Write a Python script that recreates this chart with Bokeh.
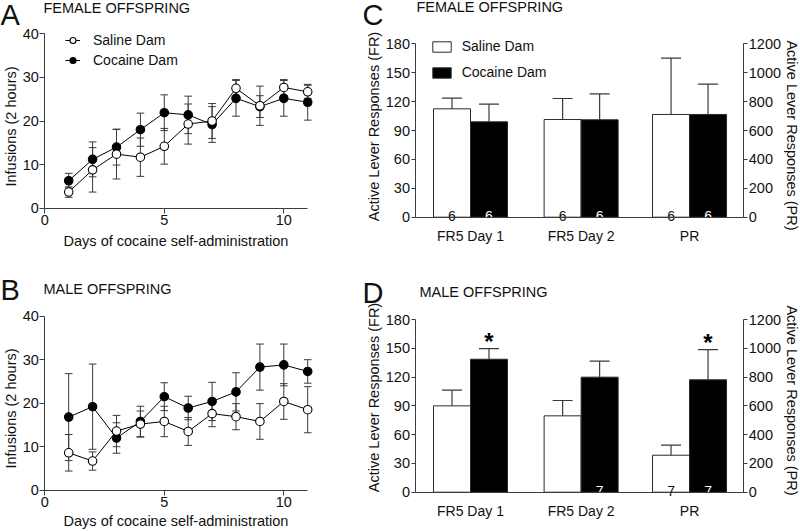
import math
from bokeh.plotting import figure
from bokeh.models import (Range1d, LinearAxis, FixedTicker, Label, Legend, LegendItem,
                          ColumnDataSource)
from bokeh.layouts import column, row
from bokeh.embed import file_html
from bokeh.resources import INLINE
from bokeh.core.properties import value

# ---------------- data ----------------
days = [1, 2, 3, 4, 5, 6, 7, 8, 9, 10, 11]
day_ticks = [0, 5, 10]
infusion_ticks = [0, 10, 20, 30, 40]

female_saline = [3.7, 8.8, 12.4, 11.7, 14.2, 19.3, 20.0, 27.5, 23.5, 27.7, 26.7]
female_saline_sem = [1.2, 5.1, 5.7, 4.4, 4.1, 4.6, 4.0, 2.0, 4.5, 1.8, 1.5]
female_cocaine = [6.3, 11.2, 14.0, 18.0, 21.9, 21.4, 19.2, 25.2, 23.3, 25.2, 24.3]
female_cocaine_sem = [1.7, 4.0, 4.1, 3.8, 4.1, 4.3, 4.1, 4.1, 2.5, 4.1, 4.1]

male_saline = [8.6, 6.7, 13.6, 15.2, 15.8, 13.5, 17.6, 16.9, 15.8, 20.4, 18.5]
male_saline_sem = [4.2, 2.1, 3.6, 3.0, 3.5, 3.2, 3.0, 3.0, 4.1, 4.1, 5.3]
male_cocaine = [16.8, 19.2, 12.0, 15.8, 21.5, 18.9, 20.4, 22.6, 28.3, 28.8, 27.3]
male_cocaine_sem = [10.0, 9.8, 3.5, 3.5, 3.2, 2.7, 4.4, 4.4, 5.3, 4.8, 2.7]

phases = ["FR5 Day 1", "FR5 Day 2", "PR"]
fr_ticks = [0, 30, 60, 90, 120, 150, 180]
pr_ticks = [0, 200, 400, 600, 800, 1000, 1200]

# FR phases in FR units (left axis), PR phase in PR units (right axis)
female_saline_resp = [112.5, 101.4, 711]
female_saline_resp_sem = [11.1, 21.8, 390]
female_cocaine_resp = [99.0, 101.1, 711]
female_cocaine_resp_sem = [18.3, 27.0, 210]
female_saline_n = [6, 6, 6]
female_cocaine_n = [6, 6, 6]
female_sig = ["", "", ""]

male_saline_resp = [90.0, 79.6, 257]
male_saline_resp_sem = [16.3, 16.0, 70]
male_cocaine_resp = [138.6, 119.9, 781]
male_cocaine_resp_sem = [11.1, 16.7, 210]
male_saline_n = [None, None, 7]
male_cocaine_n = [None, 7, 7]
male_sig = ["*", "", "*"]

# ---------------- layout / style ----------------
FONT = "Liberation Sans"
AX = "#3c3c3c"
TXT = "#111111"
ERR = "#3a3a3a"
GROUP_X = [1.5, 4.49, 7.42]
FR_MAX, PR_MAX = 180, 1200
TICK_FS = "14.5px"


def style_axis(ax, tick_out=5, standoff=2, size=TICK_FS):
    ax.axis_line_color = AX
    ax.major_tick_line_color = AX
    ax.major_tick_out = tick_out
    ax.major_tick_in = 0
    ax.minor_tick_line_color = None
    ax.major_label_standoff = standoff
    ax.major_label_text_font = FONT
    ax.major_label_text_font_size = size
    ax.major_label_text_color = TXT


def make_fig(g):
    """Frame fills the whole figure; axes sit at fixed data locations."""
    xs = -g["x0"] / g["xs"]
    xe = (g["W"] - g["x0"]) / g["xs"]
    ys = (g["y0"] - g["ytop"]) / g["ymax"]
    y_start = -(g["H"] - g["y0"]) / ys
    y_end = g["y0"] / ys
    p = figure(width=g["W"], height=g["H"], x_range=Range1d(xs, xe),
               y_range=Range1d(y_start, y_end), min_border=0, min_border_left=0,
               min_border_right=0, min_border_top=0, min_border_bottom=0,
               output_backend="svg", toolbar_location=None, tools="", title=None)
    p.outline_line_color = None
    p.xgrid.visible = False
    p.ygrid.visible = False
    p.background_fill_color = "white"
    p.border_fill_color = "white"
    p.xaxis.fixed_location = 0
    p.yaxis.fixed_location = 0
    return p, (y_start, y_end)


def add_label(p, g, text, xr, yr, size, angle=0.0, align="left", style="normal"):
    """(xr, yr): page position of the text's left/centre edge and vertical middle."""
    x = xr - g["ox"]
    y = g["H"] - (yr - g["oy"])
    p.add_layout(Label(x=x, y=y, x_units="screen", y_units="screen", text=text,
                       text_font=FONT, text_font_size=size, text_color=TXT,
                       text_align=align, text_baseline="middle", angle=angle,
                       text_font_style=style))


def line_panel(g, saline, saline_sem, cocaine, cocaine_sem, with_legend):
    p, _ = make_fig(g)
    p.xaxis.ticker = FixedTicker(ticks=day_ticks)
    p.xaxis.bounds = (0, 11)
    p.yaxis.ticker = FixedTicker(ticks=infusion_ticks)
    p.yaxis.bounds = (0, 40)
    style_axis(p.xaxis[0], 5, 2)
    style_axis(p.yaxis[0], 5, 1)
    srcs = []
    for vals, sem in [(cocaine, cocaine_sem), (saline, saline_sem)]:
        src = ColumnDataSource(dict(
            x=days, y=vals,
            lo=[v - s for v, s in zip(vals, sem)],
            hi=[v + s for v, s in zip(vals, sem)],
            cl=[d - 0.16 for d in days], cr=[d + 0.16 for d in days]))
        srcs.append(src)
        p.segment("x", "lo", "x", "hi", source=src, line_color=ERR, line_width=1)
        p.segment("cl", "hi", "cr", "hi", source=src, line_color=ERR, line_width=1)
        p.segment("cl", "lo", "cr", "lo", source=src, line_color=ERR, line_width=1)
    rends = {}
    pairs = [(srcs[0], "black", "Cocaine Dam"), (srcs[1], "white", "Saline Dam")]
    for src, fill, name in pairs:
        rends[name] = [p.line("x", "y", source=src, line_color="black", line_width=1)]
    for src, fill, name in pairs:
        rends[name].append(p.scatter("x", "y", source=src, size=8.5, fill_color=fill,
                                     line_color="black", line_width=1.1))
    if with_legend:
        leg = Legend(items=[LegendItem(label="Saline Dam", renderers=rends["Saline Dam"]),
                            LegendItem(label="Cocaine Dam", renderers=rends["Cocaine Dam"])],
                     location=(65 - g["ox"], g["H"] - (69.5 - g["oy"])),
                     glyph_width=15, glyph_height=20, label_height=20, spacing=0,
                     padding=0, margin=0, border_line_color=None,
                     background_fill_alpha=0, label_standoff=13,
                     label_text_font=FONT, label_text_font_size="14px",
                     label_text_color=TXT)
        p.add_layout(leg)
    return p


def bar_panel(g, sal, sal_sem, coc, coc_sem, n_sal, n_coc, sig, with_legend):
    p, (y_start, y_end) = make_fig(g)
    k = PR_MAX / FR_MAX
    p.extra_y_ranges = {"pr": Range1d(y_start * k, y_end * k)}
    right_x = g["xr"]
    right = LinearAxis(y_range_name="pr", ticker=FixedTicker(ticks=pr_ticks),
                       fixed_location=right_x, bounds=(0, PR_MAX))
    p.add_layout(right, "right")
    p.yaxis[0].ticker = FixedTicker(ticks=fr_ticks)
    p.yaxis[0].bounds = (0, FR_MAX)
    p.xaxis.ticker = FixedTicker(ticks=GROUP_X)
    p.xaxis.bounds = (0, right_x)
    p.xaxis.major_label_overrides = {gx: ph for gx, ph in zip(GROUP_X, phases)}
    style_axis(p.xaxis[0], 0, 11, "14px")
    style_axis(p.yaxis[0], 4, 1)
    style_axis(right, 4, 1)
    legend_rends = {}
    for vals, sem, ns, off, fill, ncol, name in [
            (sal, sal_sem, n_sal, -0.5, "white", TXT, "Saline Dam"),
            (coc, coc_sem, n_coc, 0.5, "black", "white", "Cocaine Dam")]:
        for is_pr in (False, True):
            idx = [i for i, ph in enumerate(phases) if (ph == "PR") == is_pr]
            rn = "pr" if is_pr else "default"
            src = ColumnDataSource(dict(
                x=[GROUP_X[i] + off for i in idx],
                top=[vals[i] for i in idx],
                hi=[vals[i] + sem[i] for i in idx],
                cl=[GROUP_X[i] + off - 0.27 for i in idx],
                cr=[GROUP_X[i] + off + 0.27 for i in idx],
                zero=[0 for i in idx],
                n=[str(ns[i]) if ns[i] else "" for i in idx],
                sig=[sig[i] if off > 0 else "" for i in idx]))
            vb = p.vbar(x="x", width=1, top="top", bottom=0, source=src, fill_color=fill,
                        line_color="#2a2a2a", line_width=1, y_range_name=rn)
            p.segment("x", "top", "x", "hi", source=src, line_color=ERR, line_width=1.2,
                      y_range_name=rn)
            p.segment("cl", "hi", "cr", "hi", source=src, line_color=ERR, line_width=1.2,
                      y_range_name=rn)
            if not is_pr:
                legend_rends[name] = [vb]
            p.text("x", "zero", text="n", source=src, text_color=ncol,
                   text_font=value(FONT), text_font_size="14px", text_align="center",
                   text_baseline="alphabetic", y_offset=-1.6, y_range_name=rn)
            p.text("x", "hi", text="sig", source=src, text_color="black",
                   text_font=value(FONT), text_font_size="24px", text_font_style="bold",
                   text_align="center", text_baseline="alphabetic", y_offset=-7.5,
                   y_range_name=rn)
    if with_legend:
        leg = Legend(items=[LegendItem(label="Saline Dam", renderers=legend_rends["Saline Dam"]),
                            LegendItem(label="Cocaine Dam", renderers=legend_rends["Cocaine Dam"])],
                     location=(429.7 - g["ox"], g["H"] - (80.0 - g["oy"])),
                     glyph_width=23, glyph_height=13, label_height=13, spacing=10,
                     padding=0, margin=0, border_line_color=None,
                     background_fill_alpha=0, label_standoff=9,
                     label_text_font=FONT, label_text_font_size="14px",
                     label_text_color=TXT)
        p.add_layout(leg)
    return p


# geometry in page pixels (page content starts at the top-left corner)
H1, H2 = 268, 263
W1, W2 = 358, 442
gA = dict(ox=0, oy=0, W=W1, H=H1, x0=44.3, xs=23.9, y0=207.7, ytop=33.3, ymax=40)
gB = dict(ox=0, oy=H1, W=W1, H=H2, x0=44.3, xs=23.9,
          y0=489.7 - H1, ytop=315.7 - H1, ymax=40)
gC = dict(ox=W1, oy=0, W=W2, H=H1, x0=414.5 - W1, xs=37,
          y0=216.7, ytop=43.3, ymax=FR_MAX)
gD = dict(ox=W1, oy=H1, W=W2, H=H2, x0=414.5 - W1, xs=37,
          y0=491.7 - H1, ytop=319 - H1, ymax=FR_MAX)
for g in (gC, gD):
    g["xr"] = (743.3 - W1 - g["x0"]) / g["xs"]

pA = line_panel(gA, female_saline, female_saline_sem, female_cocaine, female_cocaine_sem, True)
pB = line_panel(gB, male_saline, male_saline_sem, male_cocaine, male_cocaine_sem, False)
pC = bar_panel(gC, female_saline_resp, female_saline_resp_sem, female_cocaine_resp,
               female_cocaine_resp_sem, female_saline_n, female_cocaine_n, female_sig, True)
pD = bar_panel(gD, male_saline_resp, male_saline_resp_sem, male_cocaine_resp,
               male_cocaine_resp_sem, male_saline_n, male_cocaine_n, male_sig, False)

BIG = "29px"
MID = "14.5px"
# panel A
add_label(pA, gA, "A", 0, 14, BIG)
add_label(pA, gA, "FEMALE OFFSPRING", 43, 7, MID)
add_label(pA, gA, "Infusions (2 hours)", 10.5, 126, MID, angle=math.pi / 2, align="center")
add_label(pA, gA, "Days of cocaine self-administration", 175.5, 240.5, MID, align="center")
# panel B
add_label(pB, gB, "B", 0, 289, BIG)
add_label(pB, gB, "MALE OFFSPRING", 43, 288, MID)
add_label(pB, gB, "Infusions (2 hours)", 10.5, 408, MID, angle=math.pi / 2, align="center")
add_label(pB, gB, "Days of cocaine self-administration", 175.5, 520.5, MID, align="center")
# panel C
add_label(pC, gC, "C", 362, 14.5, BIG)
add_label(pC, gC, "FEMALE OFFSPRING", 416, 6.5, MID)
add_label(pC, gC, "Active Lever Responses (FR)", 373.5, 126, MID, angle=math.pi / 2,
          align="center")
add_label(pC, gC, "Active Lever Responses (PR)", 791.5, 135, MID, angle=-math.pi / 2,
          align="center")
# panel D
add_label(pD, gD, "D", 362, 292, BIG)
add_label(pD, gD, "MALE OFFSPRING", 419, 291, MID)
add_label(pD, gD, "Active Lever Responses (FR)", 373.5, 397, MID, angle=math.pi / 2,
          align="center")
add_label(pD, gD, "Active Lever Responses (PR)", 791.5, 400, MID, angle=-math.pi / 2,
          align="center")

layout = column(row(pA, pC), row(pB, pD))
open("out.html", "w").write(file_html(layout, INLINE))
